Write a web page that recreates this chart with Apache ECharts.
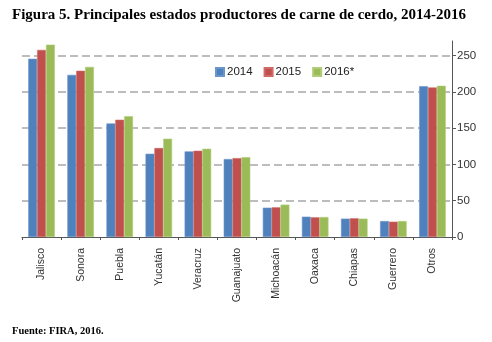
<!DOCTYPE html>
<html><head><meta charset="utf-8">
<script src="https://cdn.jsdelivr.net/npm/echarts@6/dist/echarts.min.js"></script>
<style>html,body{margin:0;padding:0;background:#fff}#c{width:492px;height:342px}</style>
</head><body><div id="c"></div>
<script>
const categories = ['Jalisco','Sonora','Puebla','Yucatán','Veracruz','Guanajuato','Michoacán','Oaxaca','Chiapas','Guerrero','Otros'];
const s2014 = [245.5, 223.4, 156.4, 114.7, 118.0, 107.4, 40.4, 28.0, 25.3, 22.0, 207.8];
const s2015 = [257.8, 229.0, 161.5, 122.5, 118.8, 108.7, 40.9, 27.1, 25.8, 21.1, 206.0];
const s2016 = [265.0, 234.4, 166.5, 135.4, 121.6, 110.0, 44.6, 27.5, 25.3, 22.0, 208.3];
const seriesNames = ['2014','2015','2016*'];
const yTicks = [0, 50, 100, 150, 200, 250];

const colors = ['#4f81bd','#c0504d','#9bbb59'];
const borders = ['#6b96cc','#d06a67','#b0cc78'];
const chart = echarts.init(document.getElementById('c'));
const data = [s2014, s2015, s2016];
chart.setOption({
  animation: false,
  title: [
    {text: 'Figura 5. Principales estados productores de carne de cerdo, 2014-2016', left: 7, top: 3,
     textStyle: {fontFamily: 'Liberation Serif', fontWeight: 'bold', fontSize: 15, color: '#000'}},
    {text: 'Fuente: FIRA, 2016.', left: 7, top: 321,
     textStyle: {fontFamily: 'Liberation Serif', fontWeight: 'bold', fontSize: 10.5, color: '#000'}}
  ],
  legend: {
    data: seriesNames, left: 210, top: 61, itemWidth: 8, itemHeight: 8, itemGap: 11,
    icon: 'rect',
    textStyle: {fontFamily: 'Liberation Sans', fontSize: 11.5, color: '#222', padding: [0,0,0,-2]}
  },
  grid: {left: 22, right: 40, top: 41, bottom: 105},
  xAxis: {
    type: 'category', data: categories,
    axisLine: {lineStyle: {color: '#555', width: 1}},
    axisTick: {show: true, length: 3, lineStyle: {color: '#555'}},
    axisLabel: {rotate: 90, fontFamily: 'Liberation Sans', fontSize: 10.5, color: '#333', margin: 11}
  },
  yAxis: {
    type: 'value', position: 'right', min: 0, max: 270, interval: 50,
    axisLine: {show: true, lineStyle: {color: '#555'}},
    axisTick: {show: true, length: 4, lineStyle: {color: '#555'}},
    axisLabel: {showMaxLabel: false, fontFamily: 'Liberation Sans', fontSize: 11.5, color: '#333', margin: 5,
      formatter: v => yTicks.includes(v) ? String(v) : ''},
    splitLine: {show: true, lineStyle: {type: [8, 4], width: 1.5,
      color: ['transparent','#a8a8a8','#a8a8a8','#a8a8a8','#a8a8a8','#a8a8a8','transparent']}}
  },
  series: seriesNames.map((n, i) => ({
    name: n, type: 'bar', data: data[i], barGap: '0%', barCategoryGap: '32%',
    itemStyle: {color: colors[i], borderColor: borders[i], borderWidth: 0.6}
  }))
});
</script></body></html>
